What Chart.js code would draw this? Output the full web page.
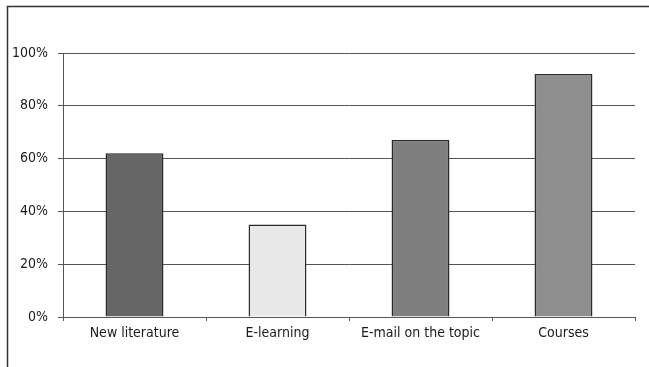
<!DOCTYPE html>
<html>
<head>
<meta charset="utf-8">
<script src="https://cdn.jsdelivr.net/npm/chart.js@4/dist/chart.umd.min.js"></script>
<style>
  html, body { margin: 0; padding: 0; background: #fff; }
  #wrap { width: 649px; height: 367px; position: relative; }
</style>
</head>
<body>
<div id="wrap"><canvas id="c" width="649" height="367"></canvas></div>
<script>
// Share of respondents per information source
const categories = ['New literature', 'E-learning', 'E-mail on the topic', 'Courses'];
const shares = [62, 35, 67, 92];
const barColors = ['#666666', '#e8e8e8', '#7f7f7f', '#8e8e8e'];
const yTicks = [0, 20, 40, 60, 80, 100];

const FONT = "'DejaVu Sans Condensed', 'Liberation Sans Narrow', sans-serif";

// Frame around the chart (top and left edges visible)
const framePlugin = {
  id: 'frame',
  beforeDraw(chart) {
    const ctx = chart.ctx;
    ctx.save();
    ctx.fillStyle = '#fff';
    ctx.fillRect(0, 0, chart.width, chart.height);
    ctx.strokeStyle = '#333';
    ctx.lineWidth = 1.5;
    ctx.beginPath();
    ctx.moveTo(7.5, chart.height);
    ctx.lineTo(7.5, 6.5);
    ctx.lineTo(chart.width, 6.5);
    ctx.stroke();
    ctx.restore();
  }
};

new Chart(document.getElementById('c'), {
  type: 'bar',
  data: {
    labels: categories,
    datasets: [{
      data: shares,
      backgroundColor: barColors,
      borderColor: '#2a2a2a',
      borderWidth: 1.5,
      borderSkipped: 'bottom',
      categoryPercentage: 1,
      barPercentage: 0.405
    }]
  },
  options: {
    responsive: false,
    animation: false,
    devicePixelRatio: 1,
    layout: { padding: { top: 53, right: 14, left: 0, bottom: 0 } },
    plugins: { legend: { display: false }, tooltip: { enabled: false } },
    scales: {
      x: {
        offset: true,
        grid: {
          display: true,
          offset: true,
          drawOnChartArea: false,
          drawTicks: true,
          tickLength: 4,
          color: '#555'
        },
        border: { display: true, color: '#555', width: 1 },
        ticks: {
          color: '#1a1a1a',
          font: { family: FONT, size: 14 },
          padding: 4,
          maxRotation: 0
        },
        afterFit(scale) { scale.height = 50; }
      },
      y: {
        min: 0,
        max: 100,
        afterBuildTicks(scale) { scale.ticks = yTicks.map(v => ({ value: v })); },
        grid: {
          color: '#555',
          lineWidth: 1,
          drawTicks: true,
          tickLength: 5
        },
        border: { display: true, color: '#555', width: 1 },
        ticks: {
          color: '#1a1a1a',
          font: { family: FONT, size: 14 },
          padding: 10,
          callback: v => v + '%'
        },
        afterFit(scale) { scale.width = 63; }
      }
    }
  },
  plugins: [framePlugin]
});
</script>
</body>
</html>
